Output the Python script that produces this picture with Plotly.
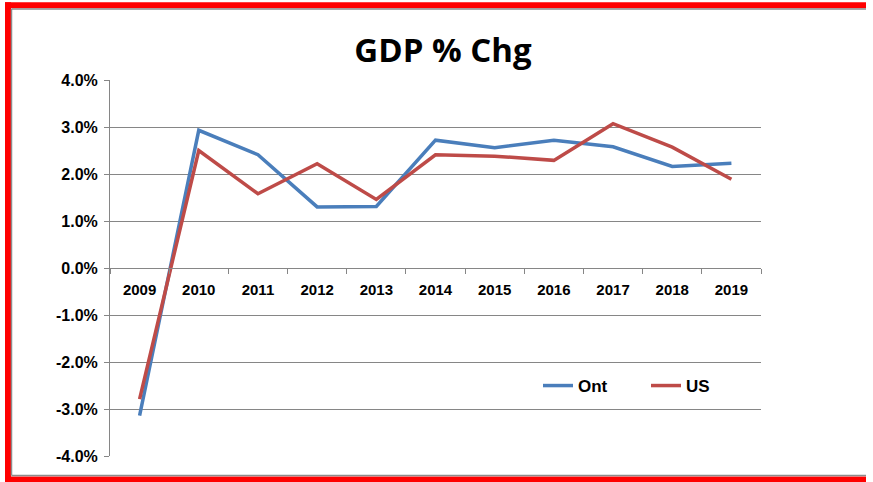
import plotly.graph_objects as go

years = ["2009", "2010", "2011", "2012", "2013", "2014", "2015", "2016", "2017", "2018", "2019"]
ont = [-3.14, 2.93, 2.41, 1.30, 1.31, 2.72, 2.56, 2.72, 2.58, 2.16, 2.23]
us = [-2.79, 2.50, 1.58, 2.22, 1.46, 2.41, 2.38, 2.29, 3.07, 2.57, 1.89]
y_ticks = [-4, -3, -2, -1, 0, 1, 2, 3, 4]
y_tick_labels = ["-4.0%", "-3.0%", "-2.0%", "-1.0%", "0.0%", "1.0%", "2.0%", "3.0%", "4.0%"]

W, H = 873, 482
L, R, T, B = 110, 761, 80, 456


def px(x):
    return (x - L) / (R - L)


def py(y):
    return (B - y) / (B - T)


fig = go.Figure()
fig.add_trace(go.Scatter(x=years, y=ont, name="Ont", mode="lines",
                         line=dict(color="#4A7EBB", width=3.5)))
fig.add_trace(go.Scatter(x=years, y=us, name="US", mode="lines",
                         line=dict(color="#BE4B48", width=3.5)))

font_family = "Liberation Sans, Arial, sans-serif"
grid = "#868686"

fig.update_layout(
    width=W, height=H,
    margin=dict(l=L, r=W - R, t=T, b=H - B, autoexpand=False),
    paper_bgcolor="white", plot_bgcolor="white",
    title=dict(text="<b>GDP % Chg</b>", x=px(443), xanchor="center", xref="paper",
               y=1 - 50 / H, yanchor="middle", yref="container",
               font=dict(family="Open Sans, sans-serif", size=33, color="black")),
    font=dict(family=font_family, color="black"),
    xaxis=dict(type="category", range=[-0.5, 10.5], anchor="free", position=0.5,
               showline=True, linecolor=grid, linewidth=1,
               ticks="outside", tickson="boundaries", ticklen=5, tickcolor=grid,
               showgrid=False, zeroline=False, automargin=False,
               tickfont=dict(size=15, family=font_family, weight="bold"), ticklabelstandoff=8),
    yaxis=dict(range=[-4, 4], tickvals=y_ticks, ticktext=y_tick_labels,
               showline=True, linecolor=grid, linewidth=1,
               showgrid=True, gridcolor=grid, gridwidth=1, zeroline=False,
               ticks="outside", ticklen=5, tickcolor=grid, automargin=False,
               tickfont=dict(size=16, family=font_family, weight="bold"), ticklabelstandoff=3),
    legend=dict(orientation="h", x=px(538), y=py(386), xanchor="left", yanchor="middle",
                font=dict(size=17, family=font_family, weight="bold"), bgcolor="rgba(0,0,0,0)",
                traceorder="normal", itemwidth=30, entrywidth=63, entrywidthmode="pixels"),
    showlegend=True,
)

# frame: red outer band and thin gray inner line (top, left, bottom)
red = dict(color="#FF0000", width=6)
gray = dict(color="#8C8C8C", width=1.5)
x_end = px(866)
fig.add_shape(type="line", xref="paper", yref="paper", x0=px(5), x1=x_end, y0=py(5.3), y1=py(5.3), line=red)
fig.add_shape(type="line", xref="paper", yref="paper", x0=px(8), x1=px(8), y0=py(2.3), y1=py(482), line=red)
fig.add_shape(type="line", xref="paper", yref="paper", x0=px(5), x1=x_end, y0=py(479.5), y1=py(479.5), line=red)
fig.add_shape(type="line", xref="paper", yref="paper", x0=px(11.5), x1=x_end, y0=py(9), y1=py(9), line=gray)
fig.add_shape(type="line", xref="paper", yref="paper", x0=px(11.5), x1=px(11.5), y0=py(9), y1=py(475.5), line=gray)
fig.add_shape(type="line", xref="paper", yref="paper", x0=px(11.5), x1=x_end, y0=py(475.5), y1=py(475.5), line=gray)

fig.write_html("out.html", config={"displayModeBar": False},
               post_script="document.body.style.margin='0';document.body.style.overflow='hidden';")
